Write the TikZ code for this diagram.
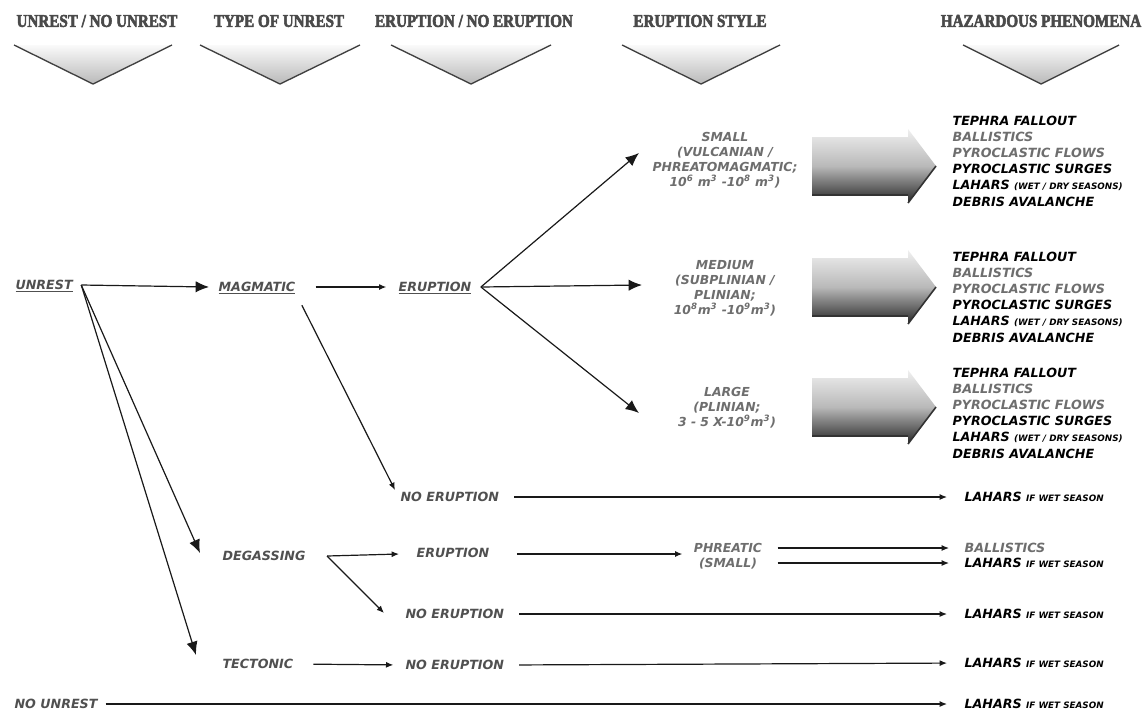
\documentclass[tikz,border=0pt]{standalone}
\usepackage{fontspec}
\setmainfont{DejaVu Sans}
\newfontfamily\hdrfam[FakeStretch=0.84,FakeBold=3]{Liberation Serif Bold}
\usetikzlibrary{arrows.meta,calc}
\definecolor{lab}{HTML}{505050}
\definecolor{lite}{HTML}{6E6E6E}
\definecolor{hdrc}{HTML}{4A4A4A}
\newcommand{\mylblfont}{\fontsize{9.5}{11}\selectfont\bfseries\itshape}
\newcommand{\mystyfont}{\fontsize{9.3}{11.25}\selectfont\bfseries\itshape}
\newcommand{\myhazfont}{\fontsize{9.5}{12.15}\selectfont\bfseries\itshape}
\newcommand{\myhdrfont}{\fontsize{13.5}{15}\selectfont\hdrfam}
\newcommand{\tinycaps}[1]{{\fontsize{6.6}{7}\selectfont #1}}
\begin{document}
\begin{tikzpicture}[x=0.75pt,y=-0.75pt,
  lbl/.style={font=\mylblfont, text=lab, inner sep=1pt, anchor=west, text height=6.9pt, text depth=0pt},
  sty/.style={font=\mystyfont, text=lite, align=center, inner sep=1pt},
  haz/.style={font=\myhazfont, align=left, anchor=west, inner sep=1pt},
  hdr/.style={font=\myhdrfont, text=hdrc, inner sep=0pt},
  ln/.style={line width=0.9pt, draw=black!90},
  big/.style={ln, -{Latex[length=10pt,width=8.5pt]}},
  sml/.style={ln, -{Latex[length=5.5pt,width=4.5pt]}},
  tri/.style={top color=gray!4, bottom color=gray!55},
  triedge/.style={draw=black!75, line width=1pt},
  barrow/.style={top color=gray!12, bottom color=black!85, middle color=gray!55},
]
\fill[white] (0,0) rectangle (1148,711);
\useasboundingbox (0,0) rectangle (1148,711);

% headers
\node[hdr] (hd1) at (97,21) {UNREST / NO UNREST};
\node[hdr] (hd2) at (279,21) {TYPE OF UNREST};
\node[hdr] (hd3) at (474,21) {ERUPTION / NO ERUPTION};
\node[hdr] (hd4) at (700,21) {ERUPTION STYLE};
\node[hdr] (hd5) at (1041,21) {HAZARDOUS PHENOMENA};
\foreach \l/\a/\r in {14/93/172, 200/280/360, 391/471/551, 622/701/780, 963/1041/1119}{
  \shade[tri] (\l,45) -- (\r,45) -- (\a,84) -- cycle;
  \draw[triedge] (\l,45) -- (\a,84) -- (\r,45);
}

% big block arrows
\foreach \c in {166,287,407}{
  \shade[barrow] (812,\c-29) -- (908,\c-29) -- (908,\c-37) -- (936,\c) -- (908,\c+37) -- (908,\c+29) -- (812,\c+29) -- cycle;
  \draw[black!80, line width=1.2pt] (908,\c+37) -- (936,\c);
  \draw[black!80, line width=0.8pt] (812,\c+29) -- (908,\c+29);
}

% labels
\node[lbl] (unrest) at (14,285) {\underline{UNREST}};
\node[lbl] (magmatic) at (217,287) {\underline{MAGMATIC}};
\node[lbl] (erup1) at (397,287) {\underline{ERUPTION}};
\node[lbl] (noerup1) at (399,497) {NO ERUPTION};
\node[lbl] (degas) at (221,556) {DEGASSING};
\node[lbl] (erup2) at (415,553) {ERUPTION};
\node[lbl] (noerup2) at (404,614) {NO ERUPTION};
\node[lbl] (tecton) at (221,664) {TECTONIC};
\node[lbl] (noerup3) at (404,665) {NO ERUPTION};
\node[lbl] (nounrest) at (13,704) {NO UNREST};
\node[sty] (phreatic) at (728,556) {PHREATIC\\(SMALL)};

% eruption styles
\node[sty] (small) at (725,160) {SMALL\\(VULCANIAN /\\PHREATOMAGMATIC;\\10\textsuperscript{6} m\textsuperscript{3} -10\textsuperscript{8} m\textsuperscript{3})};
\node[sty] (medium) at (725,288) {MEDIUM\\(SUBPLINIAN /\\PLINIAN;\\10\textsuperscript{8}m\textsuperscript{3} -10\textsuperscript{9}m\textsuperscript{3})};
\node[sty] (large) at (727,408) {LARGE\\(PLINIAN;\\3 - 5 X-10\textsuperscript{9}m\textsuperscript{3})};

% hazards
\node[haz] (hz1) at (951,161) {TEPHRA FALLOUT\\\textcolor{lite}{BALLISTICS}\\\textcolor{lite}{PYROCLASTIC FLOWS}\\PYROCLASTIC SURGES\\LAHARS \tinycaps{(WET / DRY SEASONS)}\\DEBRIS AVALANCHE};
\node[haz] (hz2) at (951,297) {TEPHRA FALLOUT\\\textcolor{lite}{BALLISTICS}\\\textcolor{lite}{PYROCLASTIC FLOWS}\\PYROCLASTIC SURGES\\LAHARS \tinycaps{(WET / DRY SEASONS)}\\DEBRIS AVALANCHE};
\node[haz] (hz3) at (951,413) {TEPHRA FALLOUT\\\textcolor{lite}{BALLISTICS}\\\textcolor{lite}{PYROCLASTIC FLOWS}\\PYROCLASTIC SURGES\\LAHARS \tinycaps{(WET / DRY SEASONS)}\\DEBRIS AVALANCHE};
\node[haz] (lah1) at (963,497) {LAHARS \tinycaps{IF WET SEASON}};
\node[haz, text=lite] (ball) at (963,548) {BALLISTICS};
\node[haz] (lah2) at (963,563) {LAHARS \tinycaps{IF WET SEASON}};
\node[haz] (lah3) at (963,614) {LAHARS \tinycaps{IF WET SEASON}};
\node[haz] (lah4) at (963,663) {LAHARS \tinycaps{IF WET SEASON}};
\node[haz] (lah5) at (963,704) {LAHARS \tinycaps{IF WET SEASON}};

% connectors
\coordinate (uf) at ($(unrest.east)+(7,0)$);
\coordinate (ef) at ($(erup1.east)+(8,0)$);
\draw[big] (uf) -- ($(magmatic.west)+(-8,0)$);
\draw[big] (uf) -- ($(degas.west)+(-21,-3)$);
\draw[big] (uf) -- ($(tecton.west)+(-25,-9)$);
\draw[sml, shorten <=14pt, shorten >=8pt] (magmatic.east) -- (erup1.west);
\draw[sml] ($(magmatic.south east)+(5,12)$) -- ($(noerup1.west)+(-4,-7)$);
\draw[big] (ef) -- ($(small.west)+(-12,-7)$);
\draw[big] (ef) -- ($(small.west |- medium.west)+(-9,-3)$);
\draw[big] (ef) -- ($(small.west |- large.west)+(-12,5)$);
\draw[sml, shorten <=10pt, shorten >=12pt] (noerup1.east) -- (lah1.west);
\coordinate (df) at ($(degas.east)+(20,0)$);
\draw[sml] (df) -- ($(erup2.west)+(-16,1)$);
\draw[sml] (df) -- ($(noerup2.west)+(-20,-1)$);
\draw[sml] ($(erup2.east)+(26,1)$) -- ($(phreatic.west)+(-10,-2)$);
\draw[sml] ($(phreatic.east |- ball.west)+(14,0)$) -- ($(ball.west)+(-14,0)$);
\draw[sml] ($(phreatic.east |- lah2.west)+(14,0)$) -- ($(lah2.west)+(-14,0)$);
\draw[sml, shorten <=10pt, shorten >=12pt] (noerup2.east) -- (lah3.west);
\draw[sml, shorten <=14pt, shorten >=8pt] (tecton.east) -- (noerup3.west);
\draw[sml, shorten <=10pt, shorten >=12pt] (noerup3.east) -- (lah4.west);
\draw[sml, shorten <=5pt, shorten >=12pt] (nounrest.east) -- (lah5.west);
\end{tikzpicture}
\end{document}
